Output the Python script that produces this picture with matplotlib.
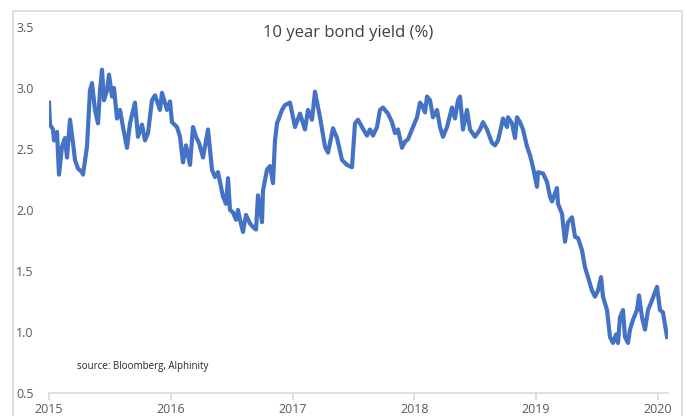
import matplotlib.pyplot as plt
import matplotlib.dates as mdates
from matplotlib.patches import Rectangle
import pandas as pd

# days since 2015-01-01 and the 10 year yield (%)
days = [0, 3, 12, 15, 24, 30, 39, 48, 54, 63, 72, 78, 87, 99, 102, 114, 123, 129, 138, 147,
        153, 159, 165, 174, 180, 189, 195, 204, 213, 222, 234, 243, 258, 267, 279, 288, 297, 309, 318, 333,
        339, 354, 363, 369, 384, 393, 402, 411, 423, 432, 441, 450, 462, 477, 489, 498, 507, 522, 531, 537,
        543, 552, 561, 567, 573, 582, 591, 603, 612, 621, 627, 639, 642, 654, 663, 672, 678, 684, 699, 708,
        723, 738, 753, 768, 777, 789, 798, 813, 828, 837, 852, 864, 879, 894, 909, 918, 927, 939, 954, 963,
        972, 984, 993, 1002, 1017, 1029, 1038, 1047, 1059, 1068, 1077, 1089, 1104, 1113, 1119, 1128, 1134, 1143, 1152, 1164,
        1173, 1182, 1194, 1209, 1218, 1227, 1233, 1242, 1254, 1263, 1278, 1293, 1302, 1314, 1329, 1338, 1347, 1359, 1362, 1374,
        1377, 1389, 1398, 1404, 1413, 1422, 1434, 1443, 1452, 1464, 1467, 1482, 1494, 1503, 1509, 1524, 1527, 1539, 1548, 1557,
        1569, 1578, 1587, 1599, 1608, 1617, 1629, 1638, 1647, 1656, 1662, 1674, 1683, 1692, 1701, 1707, 1713, 1722, 1728, 1737,
        1743, 1752, 1764, 1770, 1779, 1788, 1797, 1809, 1824, 1833, 1842, 1854]
yields = [2.88, 2.70, 2.66, 2.57, 2.64, 2.29, 2.52, 2.59, 2.43, 2.74, 2.55, 2.41, 2.34, 2.31, 2.29, 2.52, 2.98, 3.04, 2.82, 2.71,
          2.98, 3.15, 2.90, 2.98, 3.11, 2.93, 3.00, 2.75, 2.82, 2.68, 2.51, 2.71, 2.88, 2.60, 2.70, 2.57, 2.63, 2.90, 2.94, 2.82,
          2.96, 2.82, 2.89, 2.72, 2.68, 2.60, 2.39, 2.53, 2.37, 2.68, 2.60, 2.55, 2.43, 2.66, 2.33, 2.27, 2.31, 2.11, 2.05, 2.26,
          2.00, 1.98, 1.92, 2.00, 1.92, 1.82, 1.96, 1.89, 1.86, 1.84, 2.12, 1.90, 2.16, 2.33, 2.36, 2.22, 2.57, 2.71, 2.82, 2.86,
          2.88, 2.68, 2.79, 2.66, 2.82, 2.74, 2.97, 2.76, 2.52, 2.47, 2.67, 2.59, 2.41, 2.37, 2.35, 2.71, 2.74, 2.68, 2.61, 2.66,
          2.61, 2.68, 2.82, 2.84, 2.79, 2.72, 2.63, 2.66, 2.51, 2.56, 2.58, 2.66, 2.76, 2.88, 2.86, 2.80, 2.93, 2.90, 2.76, 2.82,
          2.68, 2.60, 2.68, 2.84, 2.75, 2.90, 2.93, 2.66, 2.82, 2.66, 2.60, 2.66, 2.72, 2.66, 2.55, 2.53, 2.57, 2.71, 2.75, 2.68,
          2.76, 2.71, 2.59, 2.76, 2.72, 2.66, 2.52, 2.45, 2.35, 2.19, 2.31, 2.30, 2.23, 2.11, 2.07, 2.18, 2.05, 1.97, 1.74, 1.90,
          1.94, 1.78, 1.77, 1.67, 1.53, 1.45, 1.34, 1.29, 1.34, 1.45, 1.29, 1.18, 0.96, 0.91, 0.98, 0.91, 1.12, 1.18, 0.96, 0.91,
          1.02, 1.10, 1.18, 1.30, 1.12, 1.02, 1.18, 1.26, 1.37, 1.18, 1.16, 0.96]
years = ['2015', '2016', '2017', '2018', '2019', '2020']

dates = pd.Timestamp('2015-01-01') + pd.to_timedelta(days, unit='D')

fig = plt.figure(figsize=(6.87, 4.16), dpi=100)
plt.rcParams['font.family'] = 'Open Sans'

# light frame around the chart like the excel export
fig.patches.append(Rectangle((13 / 687, -0.05), 669 / 687, 1 - 11 / 416 + 0.05,
                             transform=fig.transFigure, fill=False, edgecolor='#d9d9d9', linewidth=1.2))

ax = fig.add_axes([49 / 687, 1 - 393 / 416, 619 / 687, 366 / 416])
ax.plot(dates, yields, color='#4472C4', linewidth=3.0, solid_joinstyle='round')

ax.set_ylim(0.5, 3.5)
ax.set_yticks([0.5, 1.0, 1.5, 2.0, 2.5, 3.0, 3.5])
ax.set_xlim(pd.Timestamp('2015-01-01'), pd.Timestamp('2015-01-01') + pd.Timedelta(days=1857))
ax.set_xticks(pd.to_datetime([y + '-01-01' for y in years]))
ax.xaxis.set_major_formatter(mdates.DateFormatter('%Y'))

for s in ['top', 'right', 'left']:
    ax.spines[s].set_visible(False)
ax.spines['bottom'].set_color('#d9d9d9')
ax.spines['bottom'].set_linewidth(1.2)
ax.tick_params(axis='x', colors='#d9d9d9', length=5, width=1.2, labelcolor='#595959', labelsize=9, pad=2)
ax.tick_params(axis='y', length=0, labelcolor='#595959', labelsize=9, pad=11)

fig.text(348 / 687, 1 - 33 / 416, '10 year bond yield (%)', ha='center', va='center', fontsize=12, color='#404040')
ax.text(77 / 687, 1 - 366 / 416, 'source: Bloomberg, Alphinity', transform=fig.transFigure,
        ha='left', va='center', fontsize=7, color='#262626')

fig.savefig('out.png', dpi=100)
